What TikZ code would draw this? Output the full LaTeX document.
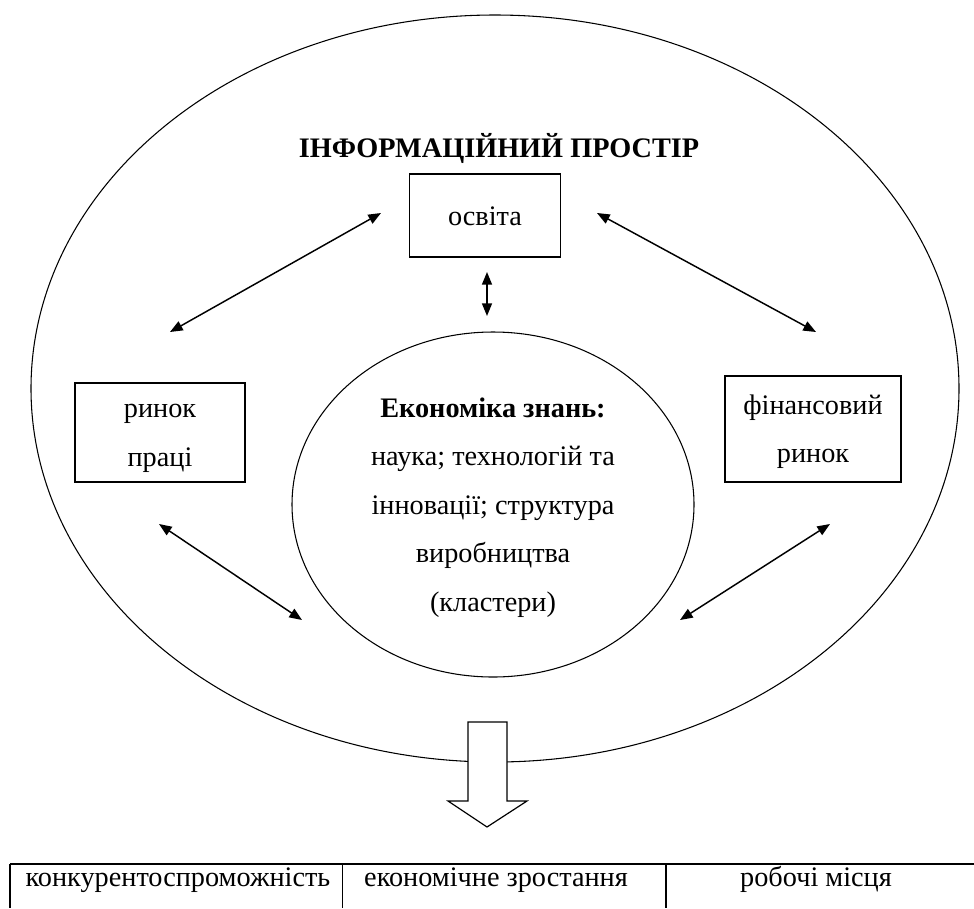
\documentclass[tikz,border=0pt]{standalone}
\usepackage{fontspec}
\setmainfont{Liberation Serif}
\usetikzlibrary{arrows.meta,shapes.geometric}
\begin{document}
\begin{tikzpicture}[x=0.75pt,y=-0.75pt,
  font=\fontsize{21.2}{36.4}\selectfont,
  box/.style={draw, line width=0.9pt, rectangle, inner sep=0pt, align=center},
  oval/.style={draw, line width=0.8pt, ellipse, inner sep=0pt, align=center},
  dbl/.style={{Triangle[length=9.5pt,width=7.5pt]}-{Triangle[length=9.5pt,width=7.5pt]}, line width=1.1pt},
  cell/.style={anchor=base, inner sep=0pt}]
\useasboundingbox (0,0) rectangle (974,908);
% outer space
\node[oval, minimum width=696pt, minimum height=560.25pt] (space) at (495,388.5) {};
\node[anchor=base, font=\fontsize{21.2}{36.4}\selectfont\bfseries] (title) at (499,157) {ІНФОРМАЦІЙНИЙ ПРОСТІР};
% boxes
\node[box, minimum width=113.25pt, minimum height=62.25pt] (osv) at (485,215.5) {\strut освіта};
\node[box, minimum width=127.5pt, minimum height=74.25pt] (rp) at (160,432.5) {\strut ринок\\\strut праці};
\node[box, minimum width=132pt, minimum height=79.5pt] (fr) at (813,429) {\strut фінансовий\\\strut ринок};
\node[oval, minimum width=301.5pt, minimum height=258.75pt] (econ) at (493,504.5)
  {\strut\textbf{Економіка знань:}\\\strut наука; технологій та\\\strut інновації; структура\\\strut виробництва\\\strut (кластери)};
% arrow end points
\coordinate (a1s) at (381,213); \coordinate (a1e) at (170,332);
\coordinate (a2s) at (597,213); \coordinate (a2e) at (816,332);
\coordinate (a3s) at (487,272); \coordinate (a3e) at (487,316);
\coordinate (a4s) at (159,524); \coordinate (a4e) at (302,620);
\coordinate (a5s) at (830,524); \coordinate (a5e) at (680,620);
\draw[dbl] (a1s) -- (a1e);
\draw[dbl] (a2s) -- (a2e);
\draw[dbl] (a3s) -- (a3e);
\draw[dbl] (a4s) -- (a4e);
\draw[dbl] (a5s) -- (a5e);
% hollow arrow
\filldraw[fill=white, draw=black, line width=0.9pt, line join=miter]
  (468,722) -- (507,722) -- (507,801) -- (527,801) -- (487,827) -- (448,801) -- (468,801) -- cycle;
% table
\draw[line width=0.8pt] (10,864) -- (974,864);
\draw[line width=0.8pt] (10,864) -- (10,908);
\draw[line width=0.8pt] (342.5,864) -- (342.5,908);
\draw[line width=0.8pt] (666,864) -- (666,908);
\node[cell] (c1) at (178,886) {конкурентоспроможність};
\node[cell] (c2) at (496,886) {економічне зростання};
\node[cell] (c3) at (816,886) {робочі місця};
\end{tikzpicture}
\end{document}
